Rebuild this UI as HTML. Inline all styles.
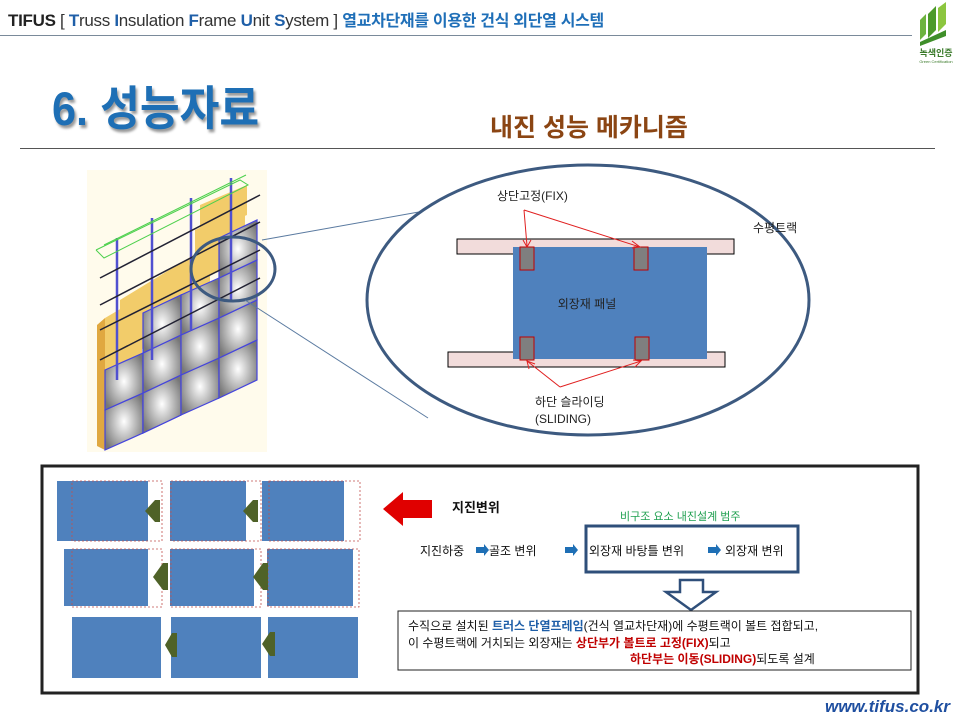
<!DOCTYPE html>
<html><head><meta charset="utf-8"><style>
body{margin:0;width:960px;height:720px;background:#fff;position:relative;overflow:hidden;font-family:"Liberation Sans","Noto Sans CJK KR",sans-serif;}
.a{position:absolute;white-space:nowrap;}
</style></head><body>
<div class="a" style="left:8px;top:7px;font-size:17px;color:#333;letter-spacing:-0.3px"><b style="color:#222">TIFUS</b> [ <b style="color:#1f5fa8">T</b>russ <b style="color:#1f5fa8">I</b>nsulation <b style="color:#1f5fa8">F</b>rame <b style="color:#1f5fa8">U</b>nit <b style="color:#1f5fa8">S</b>ystem ] <span style="color:#1f6fb8;font-size:16px;font-weight:bold">열교차단재를 이용한 건식 외단열 시스템</span></div>
<div class="a" style="left:0;top:35px;width:912px;height:1px;background:#7a8a9a"></div>
<svg class="a" style="left:912px;top:0" width="48" height="68">
<path d="M8 40 L8 20 L14 14 L14 34 Z" fill="#6db33f"/><path d="M16 38 L16 14 L24 6 L24 30 Z" fill="#4c9a2a"/><path d="M26 32 L26 8 L34 2 L34 24 Z" fill="#8cc63f"/><path d="M8 42 L34 30 L34 36 L8 46 Z" fill="#3f8f2a"/>
<text x="24" y="56" font-size="9" text-anchor="middle" fill="#3a7a2a" font-weight="bold" font-family="Liberation Sans,Noto Sans CJK KR,sans-serif">녹색인증</text>
<text x="24" y="63" font-size="4" text-anchor="middle" fill="#3a7a2a" font-family="Liberation Sans,sans-serif">Green Certification</text></svg>
<div class="a" style="left:52px;top:70px;font-size:47px;font-weight:bold;color:#1e6fb5;text-shadow:2px 3px 3px #999;transform:scaleX(0.92);transform-origin:left">6. 성능자료</div>
<div class="a" style="left:490px;top:108px;font-size:25px;font-weight:bold;color:#8b4513">내진 성능 메카니즘</div>
<div class="a" style="left:20px;top:148px;width:915px;height:1px;background:#555"></div>

<svg class="a" style="left:0;top:0" width="960" height="720" font-family="Liberation Sans,Noto Sans CJK KR,sans-serif">
<defs><radialGradient id="g" cx="50%" cy="50%" r="60%"><stop offset="0" stop-color="#fff"/><stop offset="1" stop-color="#777"/></radialGradient></defs>
<rect x="87" y="170" width="180" height="282" fill="#fffbec"/>
<!-- tan panels -->
<polygon points="97,325 105,318 105,450 97,446" fill="#e0a840"/>
<polygon points="105,318 190,268 190,290 142,318 142,395 105,412" fill="#f2cc6a"/>
<polygon points="120,300 210,245 210,300 180,318 180,330 120,360" fill="#f2cc6a"/>
<polygon points="195,230 245,205 245,260 195,282" fill="#f2cc6a"/>
<polygon points="200,205 247,185 247,215 200,235" fill="#f2cc6a"/>
<!-- grey tiles -->
<g stroke="#4444dd" stroke-width="1.2">
<polygon points="105,410 143,393 143,433 105,450" fill="url(#g)"/>
<polygon points="105,370 143,353 143,393 105,410" fill="url(#g)"/>
<polygon points="143,433 181,415 181,385 143,400" fill="url(#g)"/>
<polygon points="143,393 181,375 181,415 143,433" fill="url(#g)"/>
<polygon points="143,353 181,335 181,375 143,393" fill="url(#g)"/>
<polygon points="143,313 181,295 181,335 143,353" fill="url(#g)"/>
<polygon points="181,415 219,398 219,358 181,375" fill="url(#g)"/>
<polygon points="181,335 219,318 219,358 181,375" fill="url(#g)"/>
<polygon points="181,295 219,278 219,318 181,335" fill="url(#g)"/>
<polygon points="219,358 257,340 257,380 219,398" fill="url(#g)"/>
<polygon points="219,318 257,300 257,340 219,358" fill="url(#g)"/>
<polygon points="219,278 257,260 257,300 219,318" fill="url(#g)"/>
<polygon points="219,238 257,220 257,260 219,278" fill="url(#g)"/>
</g>
<g stroke="#5050d0" stroke-width="2.5">
<line x1="117" y1="238" x2="117" y2="380"/><line x1="152" y1="218" x2="152" y2="360"/><line x1="191" y1="198" x2="191" y2="330"/><line x1="231" y1="178" x2="231" y2="300"/>
</g>
<g stroke="#223" stroke-width="1.5"><line x1="100" y1="278" x2="260" y2="195"/><line x1="100" y1="305" x2="260" y2="222"/><line x1="100" y1="330" x2="260" y2="250"/><line x1="100" y1="360" x2="260" y2="278"/></g>
<g stroke="#4cd04c" fill="none" stroke-width="1"><polyline points="96,250 240,180 248,185 104,258 96,250"/><polyline points="104,245 246,175"/></g>
<ellipse cx="233" cy="269" rx="42" ry="32" fill="none" stroke="#3d5a80" stroke-width="3"/>
<line x1="262" y1="240" x2="430" y2="210" stroke="#5a7aa0"/>
<line x1="245" y1="300" x2="428" y2="418" stroke="#5a7aa0"/>
<!-- big ellipse -->
<ellipse cx="588" cy="300" rx="221" ry="135" fill="#fff" stroke="#3d5a80" stroke-width="3"/>
<rect x="457" y="239" width="277" height="15" fill="#f2dcdb" stroke="#000"/>
<rect x="448" y="352" width="277" height="15" fill="#f2dcdb" stroke="#000"/>
<rect x="513" y="247" width="194" height="112" fill="#4f81bd"/>
<g fill="#7f7f7f" stroke="#c00000"><rect x="520" y="247" width="14" height="23"/><rect x="634" y="247" width="14" height="23"/><rect x="520" y="337" width="14" height="23"/><rect x="635" y="337" width="14" height="23"/></g>
<text x="587" y="308" font-size="12" text-anchor="middle" fill="#222">외장재 패널</text>
<text x="497" y="200" font-size="12" fill="#222">상단고정(FIX)</text>
<text x="753" y="232" font-size="12" fill="#222">수평트랙</text>
<text x="535" y="406" font-size="12" fill="#222">하단 슬라이딩</text>
<text x="535" y="423" font-size="12" fill="#222">(SLIDING)</text>
<g stroke="#e02020" fill="none" stroke-width="1"><polyline points="524,210 527,246"/><polyline points="524,210 640,247"/><polyline points="560,387 527,361"/><polyline points="560,387 641,361"/>
<polyline points="523,240 527,247 531,240"/><polyline points="632,241 640,247 632,248"/><polyline points="529,369 527,361 535,364"/><polyline points="633,360 641,361 635,367"/></g>
<!-- bottom box -->
<rect x="42" y="466" width="876" height="227" fill="#fff" stroke="#222" stroke-width="3"/>
<g fill="#4f81bd">
<rect x="57" y="481" width="91" height="60"/><rect x="170" y="481" width="76" height="60"/><rect x="262" y="481" width="82" height="60"/>
<rect x="64" y="549" width="84" height="57"/><rect x="170" y="549" width="84" height="57"/><rect x="267" y="549" width="86" height="57"/>
<rect x="72" y="617" width="89" height="61"/><rect x="171" y="617" width="90" height="61"/><rect x="268" y="617" width="90" height="61"/>
</g>
<g fill="none" stroke="#c0504d" stroke-dasharray="2,2" stroke-width="0.8">
<rect x="72" y="481" width="90" height="60"/><rect x="171" y="481" width="90" height="60"/><rect x="269" y="481" width="91" height="60"/>
<rect x="72" y="549" width="90" height="58"/><rect x="171" y="549" width="90" height="58"/><rect x="268" y="549" width="91" height="58"/>
</g>
<g fill="#4f6228">
<polygon points="145,511 155,500 160,500 160,522 155,522"/><polygon points="243,511 253,500 258,500 258,522 253,522"/>
<polygon points="153,577 163,563 168,563 168,590 163,590"/><polygon points="253,577 263,563 268,563 268,590 263,590"/>
<polygon points="165,645 172,633 177,633 177,657 172,657"/><polygon points="262,644 270,632 275,632 275,656 270,656"/>
</g>
<polygon points="383,509 403,492 403,500 432,500 432,518 403,518 403,526" fill="#e00000"/>
<text x="452" y="512" font-size="13" font-weight="bold" fill="#111">지진변위</text>
<text x="620" y="520" font-size="11" fill="#20a050">비구조 요소 내진설계 범주</text>
<rect x="586" y="526" width="212" height="46" fill="none" stroke="#2f4f7a" stroke-width="3"/>
<text x="420" y="555" font-size="12" fill="#111">지진하중</text>
<text x="489" y="555" font-size="12" fill="#111">골조 변위</text>
<text x="589" y="555" font-size="12" fill="#111">외장재 바탕틀 변위</text>
<text x="725" y="555" font-size="12" fill="#111">외장재 변위</text>
<g fill="#1e6fb5"><polygon points="476,547 484,547 484,544 489,550 484,556 484,553 476,553"/><polygon points="565,547 573,547 573,544 578,550 573,556 573,553 565,553"/><polygon points="708,547 716,547 716,544 721,550 716,556 716,553 708,553"/></g>
<polygon points="680,580 703,580 703,592 716,592 691,610 666,592 680,592" fill="#fff" stroke="#2f4f7a" stroke-width="2.5"/>
<rect x="398" y="611" width="513" height="59" fill="#fff" stroke="#222"/>
<text x="408" y="630" font-size="12" fill="#111">수직으로 설치된 <tspan fill="#1f5fa8" font-weight="bold">트러스 단열프레임</tspan>(건식 열교차단재)에 수평트랙이 볼트 접합되고,</text>
<text x="408" y="647" font-size="12" fill="#111">이 수평트랙에 거치되는 외장재는 <tspan fill="#c00000" font-weight="bold">상단부가 볼트로 고정(FIX)</tspan>되고</text>
<text x="630" y="663" font-size="12" fill="#111"><tspan fill="#c00000" font-weight="bold">하단부는 이동(SLIDING)</tspan>되도록 설계</text>
<text x="950" y="712" font-size="17" font-weight="bold" font-style="italic" fill="#1f4fa0" text-anchor="end">www.tifus.co.kr</text>
</svg>
</body></html>
